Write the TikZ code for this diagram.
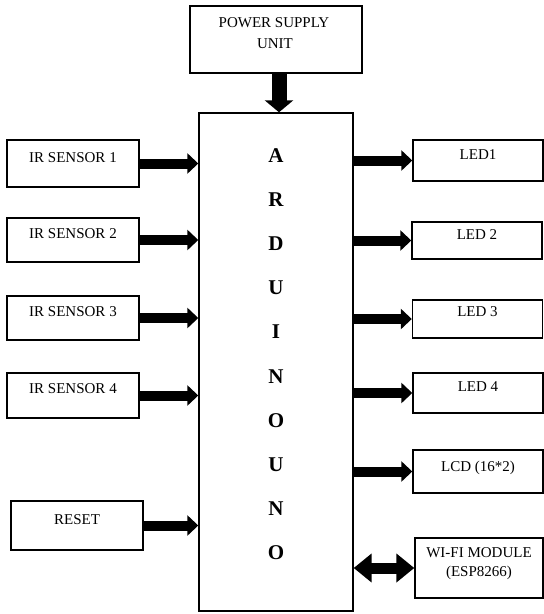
\documentclass[tikz,border=0pt]{standalone}
\usepackage{fontspec}
\setmainfont{Liberation Serif}
\usetikzlibrary{arrows.meta}
\begin{document}
\begin{tikzpicture}[x=1pt,y=-1pt,
  box/.style={draw, line width=1.4pt, inner sep=0pt, fill=white},
  txt/.style={anchor=base, inner sep=0pt, font=\fontsize{15}{21}\selectfont},
  big/.style={anchor=base, inner sep=0pt, font=\fontsize{21}{25}\selectfont\bfseries},
  harrow/.style={line width=10pt, -{Triangle[length=11pt,width=20pt]}},
  varrow/.style={line width=15pt, -{Triangle[length=12pt,width=28pt]}},
  darrow/.style={line width=11pt, {Triangle[length=18pt,width=28pt]}-{Triangle[length=18pt,width=28pt]}}
]
\useasboundingbox (0,0) rectangle (544,614);

% Arduino
\node[box, minimum width=154pt, minimum height=498pt] (ard) at (276,362) {};
\foreach \ch [count=\i] in {A,R,D,U,I,N,O,U,N,O}
  \node[big] (L\i) at (276,{162+44.2*(\i-1)}) {\ch};

% Power supply
\node[box, minimum width=172pt, minimum height=67pt] (psu) at (276,39.5) {};
\node[txt] (psut1) at (274,27) {POWER SUPPLY};
\node[txt] (psut2) at (275,48) {UNIT};

% Left boxes
\node[box, minimum width=132pt, minimum height=47pt] (ir1) at (73,163.5) {};
\node[txt] (ir1t) at (73,162) {IR SENSOR 1};
\node[box, minimum width=132pt, minimum height=44pt] (ir2) at (73,240) {};
\node[txt] (ir2t) at (73,238.5) {IR SENSOR 2};
\node[box, minimum width=132pt, minimum height=44pt] (ir3) at (73,318) {};
\node[txt] (ir3t) at (73,316.5) {IR SENSOR 3};
\node[box, minimum width=132pt, minimum height=45pt] (ir4) at (73,395.5) {};
\node[txt] (ir4t) at (73,393) {IR SENSOR 4};
\node[box, minimum width=132pt, minimum height=49pt] (rst) at (77,525.5) {};
\node[txt] (rstt) at (77,524) {RESET};

% Right boxes
\node[box, minimum width=130pt, minimum height=41pt] (led1) at (478,160.5) {};
\node[txt] (led1t) at (478,159) {LED1};
\node[box, minimum width=130pt, minimum height=37pt] (led2) at (477,240.5) {};
\node[txt] (led2t) at (477,239) {LED 2};
\node[box, minimum width=130pt, minimum height=38pt] (led3) at (477.5,319) {};
\node[txt] (led3t) at (477.5,316.5) {LED 3};
\node[box, minimum width=130pt, minimum height=40pt] (led4) at (478,393) {};
\node[txt] (led4t) at (478,391) {LED 4};
\node[box, minimum width=130pt, minimum height=43pt] (lcd) at (478,471.5) {};
\node[txt] (lcdt) at (478,471) {LCD (16*2)};
\node[box, minimum width=128pt, minimum height=60pt] (wifi) at (479,568) {};
\node[txt] (wifit1) at (479,557) {WI-FI MODULE};
\node[txt] (wifit2) at (479,576) {(ESP8266)};

% Arrows
\draw[varrow] ([xshift=3pt]psu.south) -- ([xshift=3pt]psu.south |- ard.north);
\foreach \n in {ir1,ir2,ir3,ir4,rst}
  \draw[harrow] (\n.east) -- (\n.east -| ard.west);
\foreach \n in {led1,led2,led3,led4,lcd}
  \draw[harrow] (\n.west -| ard.east) -- (\n.west);
\draw[darrow] (wifi.west -| ard.east) -- (wifi.west);
\end{tikzpicture}
\end{document}
